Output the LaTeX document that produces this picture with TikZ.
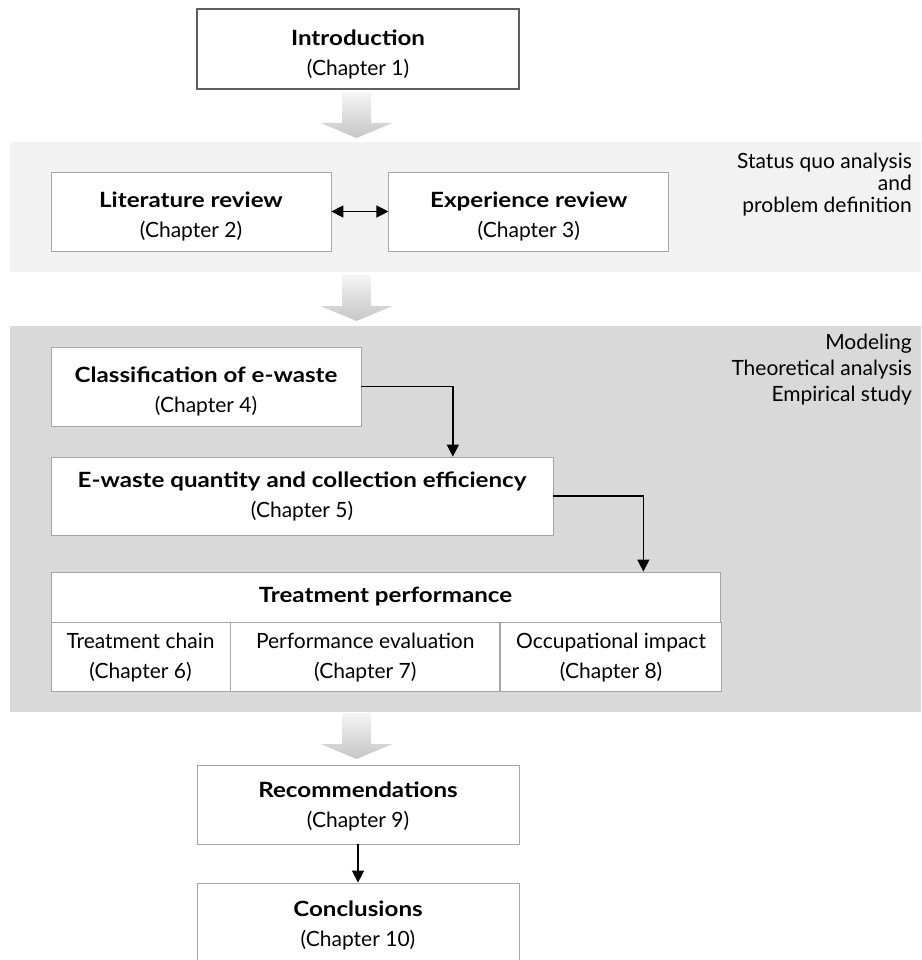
\documentclass[tikz,border=0pt]{standalone}
\usepackage{fontspec}
\setmainfont{Lato}[BoldFeatures={FakeStretch=1.15}]
\usetikzlibrary{arrows.meta,calc,positioning}
\definecolor{bandlight}{HTML}{F2F2F2}
\definecolor{banddark}{HTML}{D9D9D9}
\definecolor{boxline}{HTML}{A6A6A6}
\definecolor{introline}{HTML}{5F5F5F}
\newcommand\chapstrut[1][26pt]{\rule{0pt}{#1}}
\tikzset{
  chapbox/.style={draw=boxline,fill=white,line width=0.8pt,inner sep=0pt,
    align=center,font=\fontsize{21}{30}\selectfont},
  sidetext/.style={anchor=north east,align=right,inner sep=0pt},
  link/.style={->,line width=1.5pt},
  fatarrow/.pic={
    \shade[top color=gray!8,bottom color=gray!45]
      (-14.5,0) -- (14.5,0) -- (14.5,31) -- (36,31) -- (0,46)
      -- (-36,31) -- (-14.5,31) -- cycle;
  }
}

\begin{document}
\begin{tikzpicture}[x=1pt,y=-1pt,>={Triangle[length=12pt,width=12pt]}]
  \useasboundingbox (0,0) rectangle (921,960);
  % background bands
  \fill[bandlight] (10,142) rectangle (921,272);
  \fill[banddark] (10,326) rectangle (921,712);

  % chapters
  \node[chapbox,draw=introline,line width=2.5pt,minimum width=322,minimum height=80]
    (intro) at (358,49) {\chapstrut\textbf{Introduction}\\(Chapter 1)};
  \node[chapbox,minimum width=280,minimum height=79] (lit) at (191,211.5)
    {\chapstrut\textbf{Literature review}\\(Chapter 2)};
  \node[chapbox,minimum width=280,minimum height=79,right=57 of lit] (exp)
    {\chapstrut\textbf{Experience review}\\(Chapter 3)};
  \node[chapbox,minimum width=310,minimum height=79] (class) at (206,386.5)
    {\chapstrut\textbf{Classification of e-waste}\\(Chapter 4)};
  \node[chapbox,minimum width=502,minimum height=78] (ewaste) at (302,496)
    {\textbf{E-waste quantity and collection efficiency}\\(Chapter 5)};

  % treatment table
  \node[chapbox,minimum width=669,minimum height=50] (treat) at (385.5,597)
    {\textbf{Treatment performance}};
  \node[chapbox,minimum width=179,minimum height=69,anchor=north west] (chain)
    at (treat.south west) {Treatment chain\\(Chapter 6)};
  \node[chapbox,minimum width=269,minimum height=69,right=0pt of chain] (evalcell)
    {Performance evaluation\\(Chapter 7)};
  \node[chapbox,minimum width=221,minimum height=69,right=0pt of evalcell] (impact)
    {Occupational impact\\(Chapter 8)};

  \node[chapbox,minimum width=322,minimum height=79] (rec) at (358,804.5)
    {\chapstrut[20pt]\textbf{Recommendations}\\(Chapter 9)};
  \node[chapbox,minimum width=322,minimum height=79] (concl) at (358,922.5)
    {\chapstrut[22pt]\textbf{Conclusions}\\(Chapter 10)};

  % side labels
  \node[sidetext,font=\fontsize{21}{22}\selectfont] (statuslbl) at (912,153)
    {Status quo analysis\\and\\problem definition};
  \node[sidetext,font=\fontsize{21}{26}\selectfont] (modellbl) at (912,334)
    {Modeling\\Theoretical analysis\\Empirical study};

  % block arrows
  \pic at (356.5,92) {fatarrow};
  \pic at (356.5,275) {fatarrow};
  \pic at (356.5,713) {fatarrow};

  % connectors
  \draw[<->,line width=1.5pt] (lit) -- (exp);
  \draw[link] (class.east) -| ($(ewaste.north west)!0.8!(ewaste.north east)$);
  \draw[link] (ewaste.east) -| ($(treat.north west)!0.885!(treat.north east)$);
  \draw[link] (rec) -- (concl);
\end{tikzpicture}
\end{document}
